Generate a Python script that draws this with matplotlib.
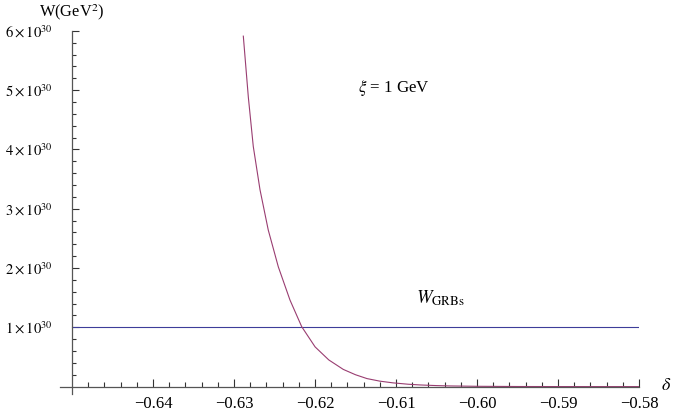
import matplotlib
matplotlib.use('Agg')
import matplotlib.pyplot as plt
import numpy as np
from matplotlib.ticker import FixedLocator

plt.rcParams['font.family'] = ['Liberation Serif', 'DejaVu Serif']
plt.rcParams['mathtext.fontset'] = 'stix'

# curve (W in units of 1e30 GeV^2)
delta = [-0.62885, -0.62823, -0.62762, -0.62679, -0.62577, -0.62453, -0.62309,
         -0.62164, -0.61999, -0.61830, -0.61651, -0.61500, -0.61358, -0.61200,
         -0.61037, -0.60850, -0.60704, -0.60500, -0.60333, -0.600, -0.595,
         -0.590, -0.585, -0.580]
W = [5.91, 4.88, 4.05, 3.32, 2.64, 2.02, 1.46,
     1.01, 0.67, 0.45, 0.29, 0.20, 0.135, 0.092,
     0.063, 0.040, 0.028, 0.017, 0.011, 0.005, 0.0015,
     0.0005, 0.0001, 0.0]
W_grbs = 1.0
x_range = [-0.65, -0.58]
xticks = [-0.64, -0.63, -0.62, -0.61, -0.60, -0.59, -0.58]
xticklabels = ['\u22120.64', '\u22120.63', '\u22120.62', '\u22120.61', '\u22120.60', '\u22120.59', '\u22120.58']
yticks = [1, 2, 3, 4, 5, 6]

# pixel mapping: delta=-0.65 at x=72, 81 px per 0.01; W=0 at y=386.6, 59.3 px per unit
x0, x1 = -0.6515, -0.58
y0, y1 = -0.12, 6.0
left = 72 + (x0 + 0.65) * 8100
right = 72 + (x1 + 0.65) * 8100
bottom = 386.6 - y0 * 59.3
top = 386.6 - y1 * 59.3

fig = plt.figure(figsize=(6.9, 4.15), dpi=100)
ax = fig.add_axes([left/690, 1-bottom/415, (right-left)/690, (bottom-top)/415])

ax.plot(x_range, [W_grbs, W_grbs], color=(0.24, 0.24, 0.6), lw=0.8)
ax.plot(delta, W, color=(0.6, 0.24, 0.443), lw=0.8)

ax.set_xlim(x0, x1)
ax.set_ylim(y0, y1)
ax.spines['top'].set_visible(False)
ax.spines['right'].set_visible(False)
ax.spines['left'].set_position(('data', -0.65))
ax.spines['bottom'].set_position(('data', 0))
for s in ['left', 'bottom']:
    ax.spines[s].set_color('#555555')
    ax.spines[s].set_linewidth(0.9)

ax.xaxis.set_major_locator(FixedLocator(xticks))
ax.xaxis.set_minor_locator(FixedLocator(np.round(np.arange(-0.648, -0.5805, 0.002), 4)))
ax.set_xticklabels(xticklabels)
ax.yaxis.set_major_locator(FixedLocator(yticks))
ax.yaxis.set_minor_locator(FixedLocator([v/5 for v in range(1, 30) if v % 5]))
ax.set_yticklabels([r'$%d\times10^{30}$' % v for v in yticks])

ax.tick_params(which='both', direction='in', color='#333333', width=0.8)
ax.tick_params(axis='x', which='major', length=6, pad=6.5, labelsize=12)
ax.tick_params(axis='x', which='minor', length=3.5)
ax.tick_params(axis='y', which='major', length=5, pad=14, labelsize=10.5)
ax.tick_params(axis='y', which='minor', length=3)

ax.text(-0.6147, 5.04, r'$\xi$ = 1 GeV', fontsize=12.2, va='center', ha='left')
ax.text(-0.6075, 1.49, r'$W_{\mathrm{GRBs}}$', fontsize=13.4, va='center', ha='left')
fig.text(72/690, 1-12/415, r'W(GeV$^2$)', fontsize=11.8, ha='center', va='center')
fig.text(666/690, 1-385/415, r'$\delta$', fontsize=13, ha='center', va='center')

plt.savefig('out.png', dpi=100)
